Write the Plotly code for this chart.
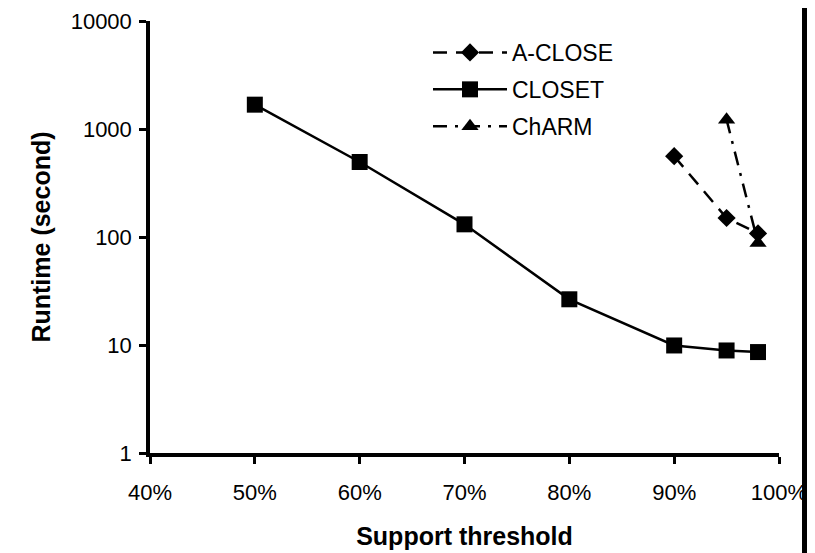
import plotly.graph_objects as go

support = [50, 60, 70, 80, 90, 95, 98]
closet = [1680, 495, 131, 26.5, 9.9, 8.9, 8.6]
aclose_x = [90, 95, 98]
aclose = [560, 150, 108]
charm_x = [95, 98]
charm = [1220, 88]

x_ticks = [40, 50, 60, 70, 80, 90, 100]
x_labels = ["40%", "50%", "60%", "70%", "80%", "90%", "100%"]
y_ticks = [1, 10, 100, 1000, 10000]
y_labels = ["1", "10", "100", "1000", "10000"]

font = "Liberation Sans, Arial, sans-serif"

# page has an 8px body margin; figure drawn from (8, 8)
W, H = 807, 545
L, R, T, B = 142, 36, 13, 100
PW = W - L - R
PH = H - T - B

fig = go.Figure()
fig.add_trace(go.Scatter(
    x=aclose_x, y=aclose, name="A-CLOSE", mode="lines+markers", legendgroup="a",
    line=dict(color="black", width=2.5, dash="14px,9px"),
    marker=dict(symbol="diamond", size=14, color="black"),
))
fig.add_trace(go.Scatter(
    x=support, y=closet, name="CLOSET", mode="lines+markers", legendgroup="b",
    line=dict(color="black", width=2.5),
    marker=dict(symbol="square", size=16, color="black"),
))
fig.add_trace(go.Scatter(
    x=charm_x, y=charm, name="ChARM", mode="lines+markers", legendgroup="c",
    line=dict(color="black", width=2.5, dash="14px,8px,3px,8px"),
    marker=dict(symbol="triangle-up", size=15, color="black"),
))

# dark strip along the right edge of the picture
fig.add_shape(type="rect", xref="paper", yref="paper",
              x0=(794 - L) / PW, x1=(830 - L) / PW,
              y0=-1, y1=2, fillcolor="black", line=dict(width=0), layer="above")

fig.update_layout(
    width=W, height=H,
    margin=dict(l=L, r=R, t=T, b=B, autoexpand=False),
    paper_bgcolor="white", plot_bgcolor="white",
    font=dict(family=font, size=22, color="black"),
    showlegend=True,
    legend=dict(x=(420 - L) / PW, y=1 - (23 - T) / PH, xanchor="left", yanchor="top",
                bgcolor="rgba(0,0,0,0)", font=dict(size=23, family=font),
                itemwidth=74, tracegroupgap=4),
    xaxis=dict(
        range=[40, 100], tickvals=x_ticks, ticktext=x_labels,
        showline=True, linecolor="black", linewidth=3.5,
        ticks="outside", ticklen=7, tickwidth=3, tickcolor="black",
        showgrid=False, zeroline=False, ticklabelstandoff=10, automargin=False,
        tickfont=dict(size=22, family=font),
        title=dict(text="<b>Support threshold</b>", font=dict(size=25, family=font), standoff=24),
    ),
    yaxis=dict(
        type="log", range=[0, 4], tickvals=y_ticks, ticktext=y_labels,
        showline=True, linecolor="black", linewidth=3.5,
        ticks="outside", ticklen=7, tickwidth=3, tickcolor="black",
        showgrid=False, zeroline=False, ticklabelstandoff=3, automargin=False,
        tickfont=dict(size=22, family=font),
        title=dict(text="<b>Runtime (second)</b>", font=dict(size=25, family=font), standoff=14),
    ),
)

fig.write_html("out.html")
